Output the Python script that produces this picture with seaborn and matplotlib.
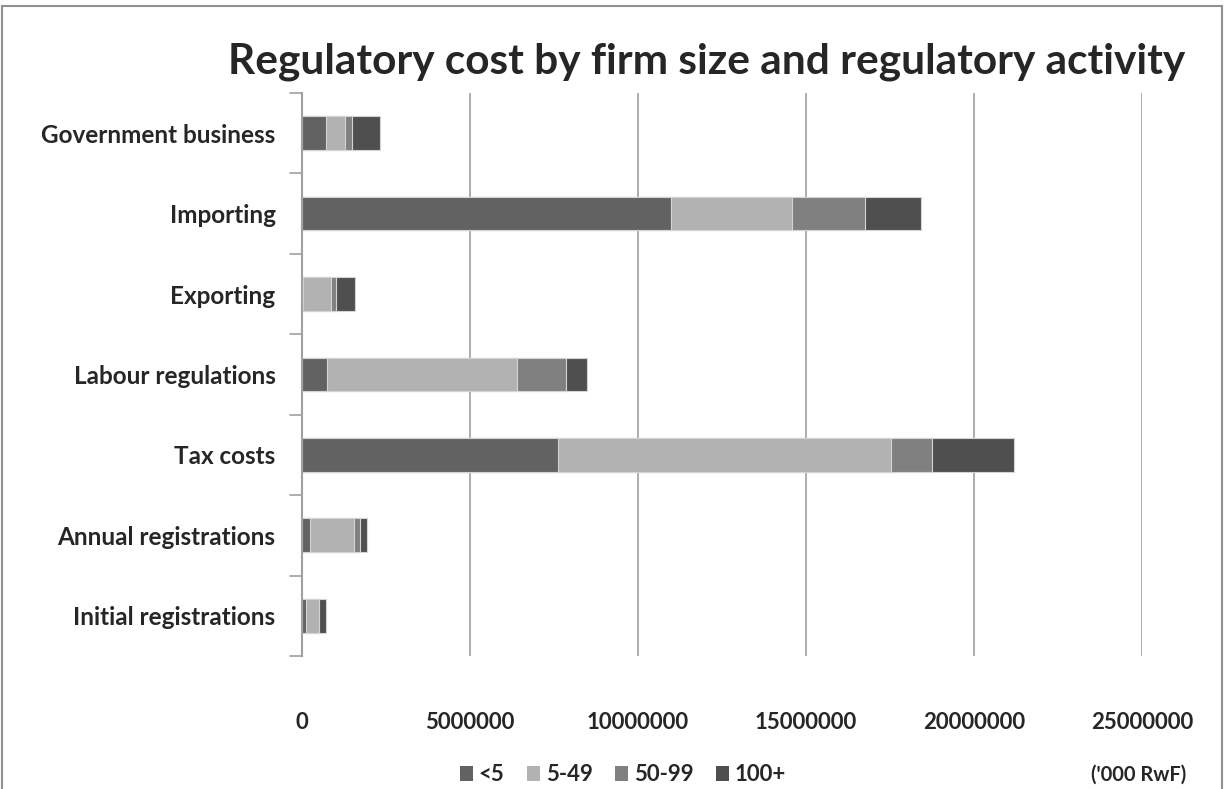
import numpy as np
import pandas as pd
import matplotlib
matplotlib.use("Agg")
import matplotlib.pyplot as plt
import seaborn as sns
from matplotlib.patches import Rectangle, Patch

categories = ["Government business", "Importing", "Exporting", "Labour regulations",
              "Tax costs", "Annual registrations", "Initial registrations"]
series = ["<5", "5-49", "50-99", "100+"]
v_lt5 = [710000, 10980000, 20000, 750000, 7620000, 250000, 130000]
v_5_49 = [570000, 3600000, 840000, 5650000, 9900000, 1300000, 370000]
v_50_99 = [210000, 2190000, 160000, 1450000, 1230000, 190000, 20000]
v_100p = [830000, 1640000, 560000, 640000, 2450000, 190000, 200000]
xticks = [0, 5000000, 10000000, 15000000, 20000000, 25000000]
colors = ["#626262", "#b2b2b2", "#808080", "#4f4f4f"]

sns.set_theme(style="white")
plt.rcParams['font.family'] = ['Lato', 'DejaVu Sans']

fig = plt.figure(figsize=(12.26, 7.89), dpi=100)
ax = fig.add_axes([0.2463, 0.1686, 0.6852, 0.7136])

vals = np.array([v_lt5, v_5_49, v_50_99, v_100p], dtype=float)
cum = np.cumsum(vals, axis=0)
df = pd.DataFrame({"cat": categories})
for i in range(3, -1, -1):
    df["v"] = cum[i]
    sns.barplot(data=df, x="v", y="cat", orient="h", color=colors[i],
                saturation=1, width=0.42, edgecolor="#d4d4d4", linewidth=0.8,
                ax=ax, zorder=3)

ax.set_xlim(0, 25000000)
ax.set_ylim(6.5, -0.5)
ax.set_xticks(xticks)
ax.set_xticklabels([str(t) for t in xticks], fontsize=16, fontweight="bold")
ax.tick_params(axis="x", length=0, pad=40)
ax.set_yticks(np.arange(len(categories)))
ax.set_yticklabels(categories, fontsize=17.5, fontweight="bold")
ax.tick_params(axis="y", length=0, pad=19)
# boundary ticks on y axis
for b in np.arange(-0.5, 7.0, 1.0):
    ax.plot([-0.014, 0], [b, b], transform=ax.get_yaxis_transform(),
            color="#a0a0a0", lw=1.2, clip_on=False)
ax.set_xlabel("")
ax.set_ylabel("")
ax.grid(axis="x", color="#a0a0a0", lw=1.2, zorder=0)
ax.set_axisbelow(True)
for s in ["top", "right", "bottom"]:
    ax.spines[s].set_visible(False)
ax.spines["left"].set_color("#a0a0a0")
ax.spines["left"].set_linewidth(1.5)
ax.spines["left"].set_zorder(5)

fig.text(0.576, 0.922, "Regulatory cost by firm size and regulatory activity",
         ha="center", va="center", fontsize=30.5, fontweight="bold")

handles = [Patch(facecolor=c, edgecolor="none") for c in colors]
leg = fig.legend(handles, series, loc="center", bbox_to_anchor=(0.508, 0.018),
                 ncol=4, frameon=False, handlelength=0.6, handleheight=0.6,
                 handletextpad=0.25, columnspacing=1.0,
                 prop={"weight": "bold", "size": 16})
fig.text(0.929, 0.018, "('000 RwF)", ha="center", va="center", fontsize=14.5,
         fontweight="bold")

fig.patches.append(Rectangle((0.002, -0.01), 0.995, 1.002, transform=fig.transFigure,
                             fill=False, edgecolor="#909090", lw=1.5))

fig.savefig("out.png", dpi=100)
